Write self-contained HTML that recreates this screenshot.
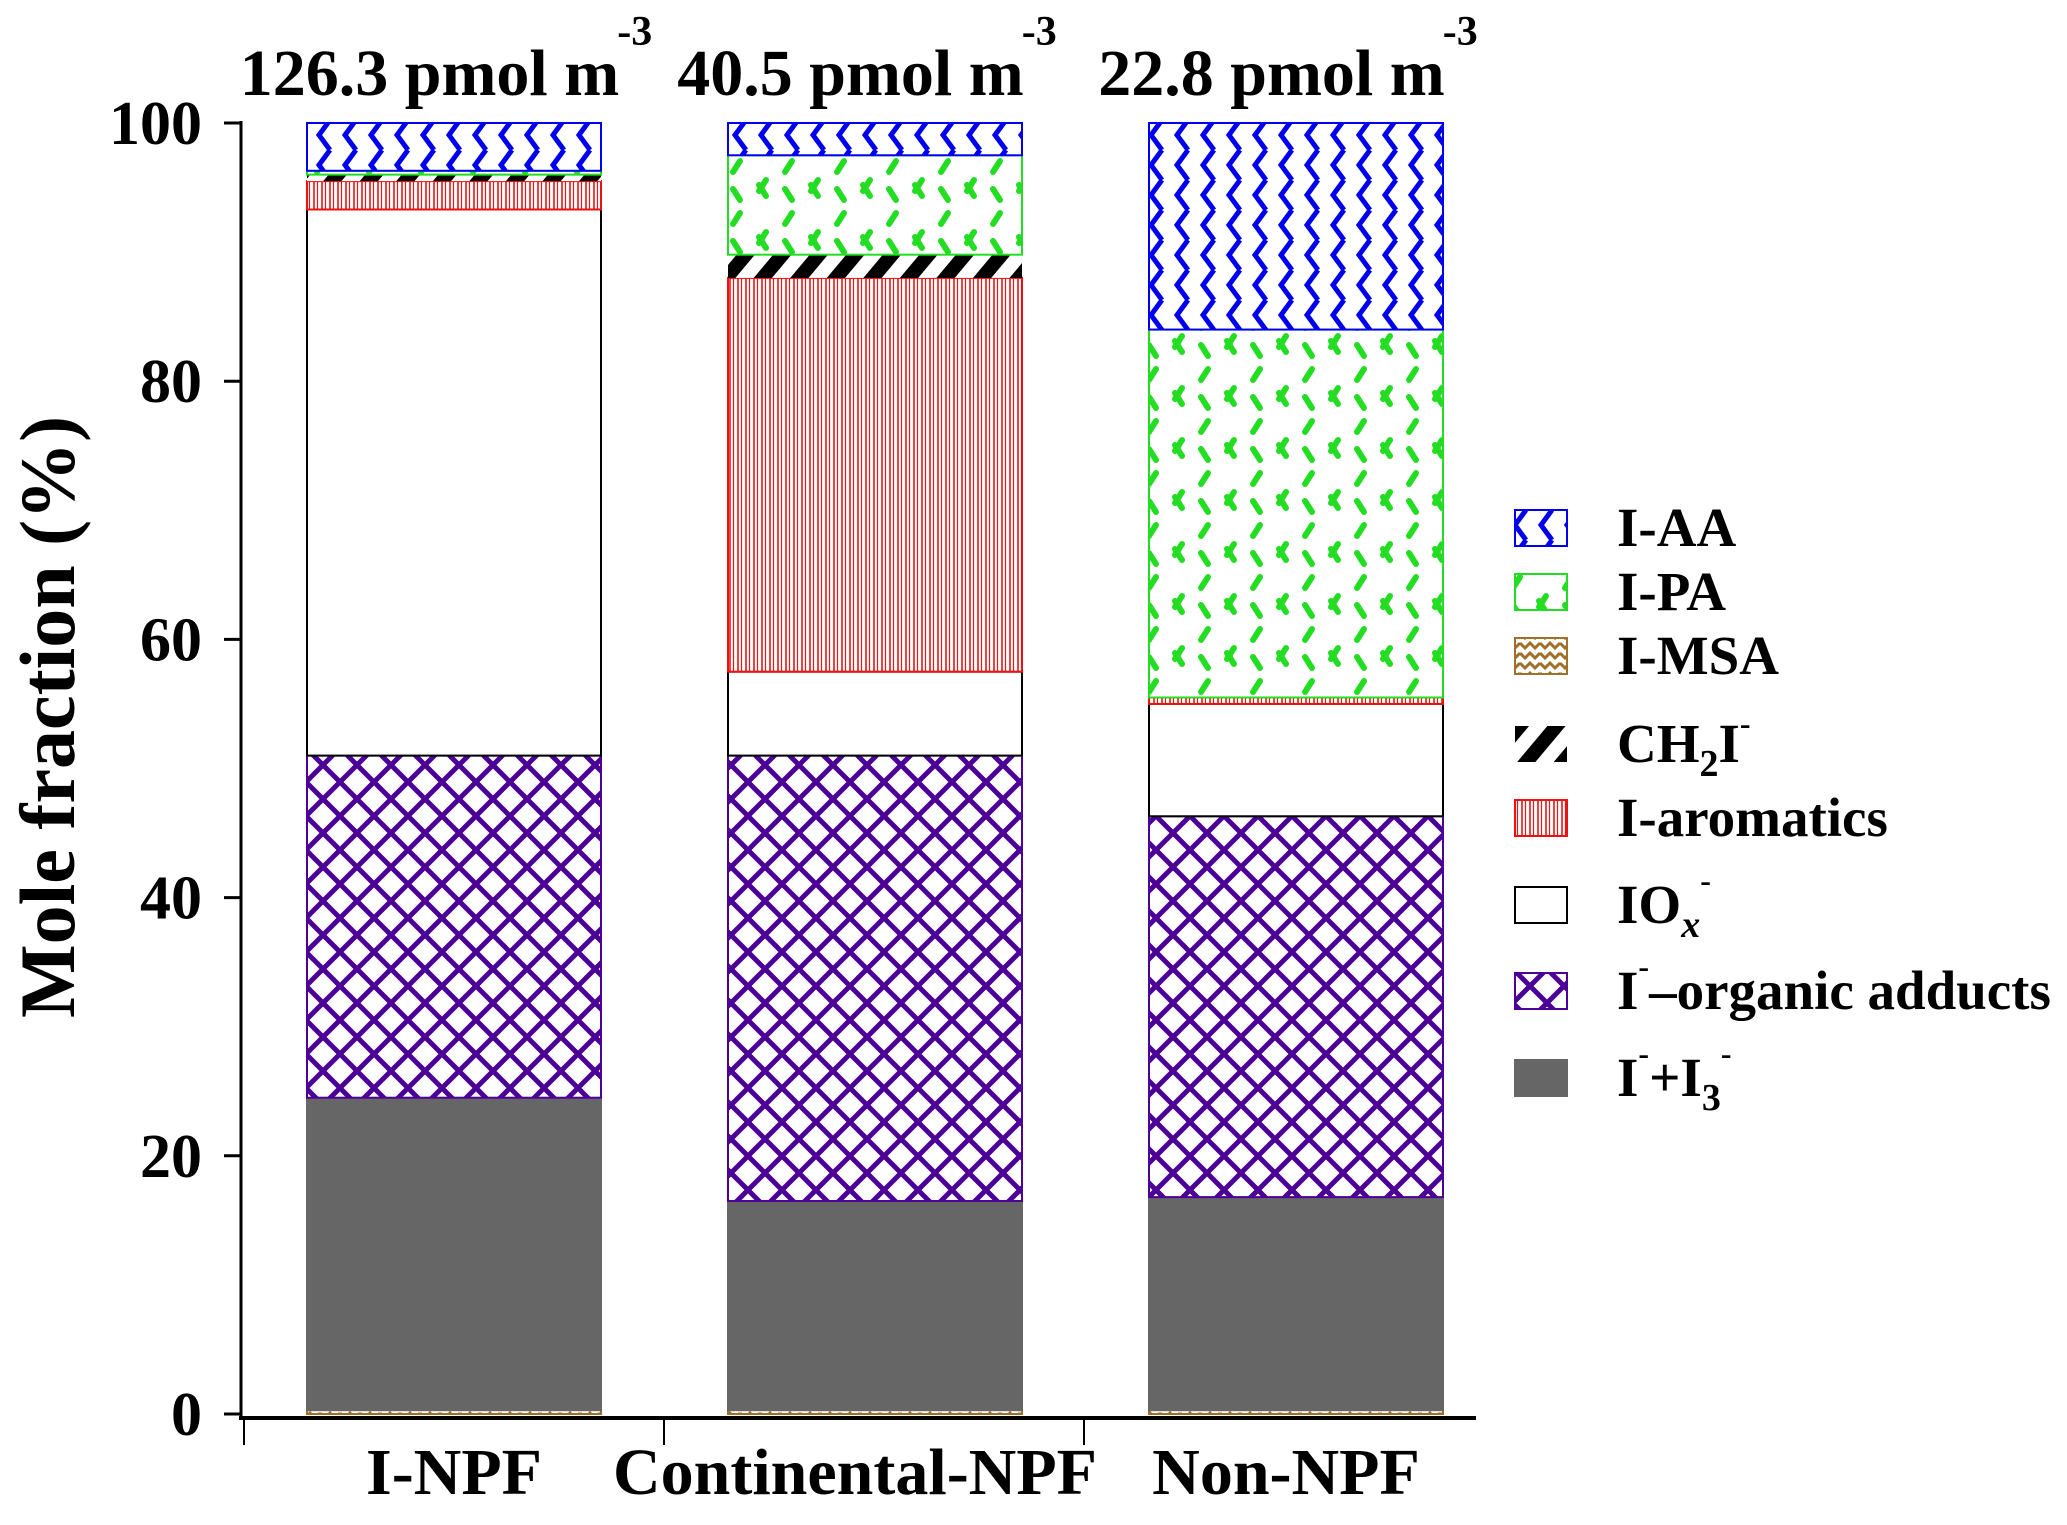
<!DOCTYPE html>
<html><head><meta charset="utf-8"><style>
html,body{margin:0;padding:0;background:#fff}
svg{display:block}
text{font-family:"Liberation Serif",serif;font-weight:bold;fill:#000}
</style></head><body>
<svg id="chart" width="2067" height="1525" viewBox="0 0 2067 1525" xmlns="http://www.w3.org/2000/svg">
<defs>
<pattern id="p-aa" patternUnits="userSpaceOnUse" width="26" height="30"><rect width="26" height="30" fill="#fff"/><path d="M18,0 L7,15 L18,30" fill="none" stroke="#0000ee" stroke-width="5"/></pattern>
<pattern id="p-pa" patternUnits="userSpaceOnUse" width="52" height="52"><rect width="52" height="52" fill="#fff"/><path d="M5,16 L12,5 M31,29 L38,40 M38,24 L31,35 M12,44 L5,33" stroke="#22dd22" stroke-width="6" stroke-linecap="round"/></pattern>
<pattern id="p-msa" patternUnits="userSpaceOnUse" width="20" height="10"><rect width="20" height="10" fill="#fff"/><path d="M0,3 L5,8 L10,3 L15,8 L20,3" fill="none" stroke="#a0702a" stroke-width="3"/></pattern>
<pattern id="p-ch2i" patternUnits="userSpaceOnUse" width="28" height="28" patternTransform="rotate(40)"><rect width="28" height="28" fill="#fff"/><rect width="14" height="28" fill="#000"/></pattern>
<pattern id="p-arom" patternUnits="userSpaceOnUse" width="8" height="10"><rect width="8" height="10" fill="#fff"/><line x1="2" y1="0" x2="2" y2="10" stroke="#ee1111" stroke-width="1.6"/><line x1="5.5" y1="0" x2="5.5" y2="10" stroke="#ee1111" stroke-width="1.2"/></pattern>
<pattern id="p-org" patternUnits="userSpaceOnUse" width="34" height="34"><rect width="34" height="34" fill="#fff"/><path d="M0,0 L34,34 M34,0 L0,34" stroke="#4b0096" stroke-width="5"/></pattern>
</defs>
<g id="plot"></g>
</svg>
<script>
const categories = ["I-NPF","Continental-NPF","Non-NPF"];
const totals = ["126.3","40.5","22.8"];
const seriesNames = ["I-MSA","I+I3","organic","IOx","aromatics","CH2I","I-PA","I-AA"];
const msaVals = [0.3,0.3,0.3];
const iI3Vals = [24.2,16.2,16.5];
const organicVals = [26.5,34.5,29.5];
const ioxVals = [42.3,6.5,8.7];
const aromVals = [2.2,30.5,0.5];
const ch2iVals = [0.5,1.8,0];
const paVals = [0.3,7.7,28.5];
const aaVals = [3.7,2.5,16];
const yTicks = [0,20,40,60,80,100];

const NS="http://www.w3.org/2000/svg";
const g=document.getElementById('plot');
const y0=1414, y100=123;
const ys=v=>y0-(y0-y100)*v/100;
const barW=294;
const xc=i=>454+i*421;
const labelShift=[0,-20,-10];
function mk(tag,attrs,parent){const e=document.createElementNS(NS,tag);for(const k in attrs)e.setAttribute(k,attrs[k]);(parent||g).appendChild(e);return e;}
const series=[
 {vals:msaVals,fill:"url(#p-msa)",stroke:"#a0702a",name:"i-msa"},
 {vals:iI3Vals,fill:"#666666",stroke:"#666666",name:"i-plus-i3"},
 {vals:organicVals,fill:"url(#p-org)",stroke:"#4b0096",name:"i-organic-adducts"},
 {vals:ioxVals,fill:"#ffffff",stroke:"#000",name:"iox"},
 {vals:aromVals,fill:"url(#p-arom)",stroke:"#ee1111",name:"i-aromatics"},
 {vals:ch2iVals,fill:"url(#p-ch2i)",stroke:"none",name:"ch2i"},
 {vals:paVals,fill:"url(#p-pa)",stroke:"#22dd22",name:"i-pa"},
 {vals:aaVals,fill:"url(#p-aa)",stroke:"#0000ee",name:"i-aa"}
];
categories.forEach((c,i)=>{
  let acc=0;
  series.forEach(s=>{
    const v=s.vals[i];
    if(v>0){
      const r=mk('rect',{x:xc(i)-barW/2,y:ys(acc+v),width:barW,height:ys(acc)-ys(acc+v),fill:s.fill,stroke:s.stroke,'stroke-width':2});
      
      
    }
    acc+=v;
  });
  const t=mk('text',{x:xc(i)-8,y:95,'font-size':66,'text-anchor':'middle'});
  
  
  t.innerHTML=totals[i]+' pmol m<tspan font-size="42" dx="-2" dy="-50">-3</tspan>';
  const xl=mk('text',{x:xc(i)+labelShift[i],y:1494,'font-size':66,'text-anchor':'middle'});
  
  
  xl.textContent=c;
  const tk=mk('line',{x1:244+i*420,y1:1418,x2:244+i*420,y2:1445,stroke:'#000','stroke-width':2});
  
  
});
const ya=mk('line',{x1:241,y1:121,x2:241,y2:1418,stroke:'#000','stroke-width':3});


const xa=mk('line',{x1:239,y1:1418,x2:1476,y2:1418,stroke:'#000','stroke-width':4});


yTicks.forEach(v=>{
  const l=mk('line',{x1:224,y1:ys(v),x2:241,y2:ys(v),stroke:'#000','stroke-width':3});
  
  
  const t=mk('text',{x:202,y:ys(v)+21,'font-size':62,'text-anchor':'end'});
  
  
  t.textContent=v;
});
const yt=mk('text',{x:0,y:0,'font-size':78,'text-anchor':'middle',transform:'translate(74,717) rotate(-90)'});


yt.textContent='Mole fraction (%)';
const legFills=["url(#p-aa)","url(#p-pa)","url(#p-msa)","url(#p-ch2i)","url(#p-arom)","#fff","url(#p-org)","#666666"];
const legStroke=["#0000ee","#22dd22","#a0702a","none","#ee1111","#000","#4b0096","#666666"];
const legY=[528,592,656,744,818,905,991,1078];
const legLabels=['I-AA','I-PA','I-MSA','CH<tspan font-size="38" dy="14">2</tspan><tspan dy="-14">I</tspan><tspan font-size="32" dy="-28">-</tspan>','I-aromatics','IO<tspan font-size="38" dy="14" font-style="italic">x</tspan><tspan font-size="32" dy="-46">-</tspan>','I<tspan font-size="32" dy="-32">-</tspan><tspan dy="32">–organic adducts</tspan>','I<tspan font-size="32" dy="-32">-</tspan><tspan dy="32">+I</tspan><tspan font-size="38" dy="14">3</tspan><tspan font-size="32" dy="-46">-</tspan>'];
legY.forEach((y,i)=>{
  const r=mk('rect',{x:1515,y:y-18,width:52,height:36,fill:legFills[i],stroke:legStroke[i],'stroke-width':2});
  
  
  const t=mk('text',{x:1617,y:y+18,'font-size':55});
  
  
  t.innerHTML=legLabels[i];
});
</script>
</body></html>
